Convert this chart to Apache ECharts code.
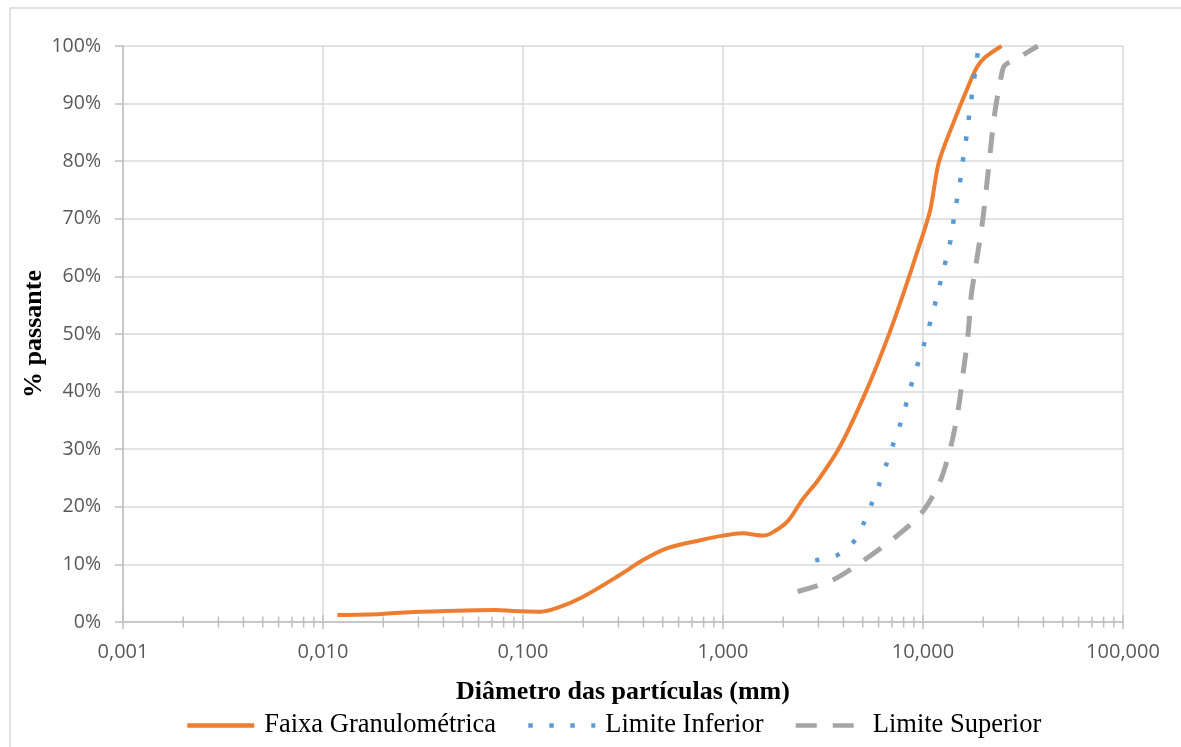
<!DOCTYPE html>
<html>
<head>
<meta charset="utf-8">
<script src="https://cdn.jsdelivr.net/npm/echarts@6/dist/echarts.min.js"></script>
<style>html,body{margin:0;padding:0;background:#fff;}#chart{width:1181px;height:747px;}</style>
</head>
<body>
<div id="chart"></div>
<script>
// ---- Data (diameter in mm, % passing) ----
const faixaD   = [0.0118,0.0197,0.0272,0.074,0.089,0.122,0.147,0.2,0.306,0.4,0.523,0.77,1.0,1.25,1.59,1.78,2.12,2.5,3.0,3.85,5.23,6.8,8.27,9.46,10.0,10.9,12.0,14.2,16.6,18.6,20.4,24.7];
const faixaP   = [1.2,1.4,1.7,2.1,1.9,1.8,2.4,4.4,8.2,10.8,12.8,14.2,15.0,15.4,15.0,15.6,17.6,21.3,24.7,30.5,40.3,50.2,58.6,64.8,67.3,71.7,79.8,86.7,92.5,96.3,98.0,100];
const infD     = [2.89,3.68,4.47,5.03,5.53,6.04,6.56,7.1,7.7,8.26,8.8,9.46,10.2,10.9,11.6,12.3,13.05,13.8,14.3,14.9,15.5,16.0,16.6,17.1,17.7,18.3,19.0];
const infP     = [10.7,11.5,13.8,17.0,20.5,23.9,27.4,30.9,34.4,38.0,41.5,45.0,48.6,52.2,55.8,59.4,63.0,66.6,70.3,74.0,77.6,81.3,84.9,88.6,92.3,96.0,100];
const supD     = [2.36,3.54,5.05,7.2,9.83,12.1,13.8,15.0,15.9,16.8,17.4,18.3,19.8,20.8,21.8,22.9,24.7,25.6,30.0,37.5];
const supP     = [5.3,7.3,10.7,14.6,18.9,24.2,30.6,36.9,43.4,49.9,56.5,61.5,69.3,75.7,82.3,88.6,95.0,96.6,98.0,100];
const seriesNames = ['Faixa Granulométrica','Limite Inferior','Limite Superior'];
const xTickLabels = ['0,001','0,010','0,100','1,000','10,000','100,000'];
const decades = [0.001,0.01,0.1,1,10,100];
const minorMultipliers = [2,3,4,5,6,7,8,9];
const xTitle = 'Diâmetro das partículas (mm)';
const yTitle = '% passante';

const pair = (a,b) => a.map((v,i)=>[v,b[i]]);
const tickData = [];
decades.forEach((d,i)=>{
  tickData.push([d,0,1]);
  if (i < decades.length-1) minorMultipliers.forEach(m=>tickData.push([d*m,0,0]));
});

const chart = echarts.init(document.getElementById('chart'), null, {renderer:'canvas'});
const serif = 'Liberation Serif, Times New Roman, serif';
const sans = 'Open Sans, Liberation Sans, sans-serif';
chart.setOption({
  animation:false,
  backgroundColor:'#fff',
  graphic:[{type:'rect', shape:{x:10,y:8,width:1250,height:800}, style:{fill:'none',stroke:'#d9d9d9',lineWidth:1.5}, silent:true, z:-1}],
  grid:{left:123,right:58,top:46,bottom:125},
  legend:{
    data:seriesNames, left:180, top:707, itemWidth:67, itemHeight:24, itemGap:30,
    itemStyle:{opacity:0},
    lineStyle:{width:4.5},
    textStyle:{fontFamily:serif,fontSize:26.5,color:'#000',padding:[0,0,0,5]}
  },
  xAxis:{
    type:'log', logBase:10, min:0.001, max:100,
    name:xTitle, nameLocation:'middle', nameGap:57,
    nameTextStyle:{fontFamily:serif,fontSize:26,fontWeight:'bold',color:'#000'},
    axisLine:{show:true,lineStyle:{color:'#bfbfbf',width:1.5}},
    axisTick:{show:false},
    axisLabel:{fontFamily:sans,fontSize:20,color:'#595959',margin:20,
      formatter:v=>xTickLabels[Math.round(Math.log10(v))+3]},
    splitLine:{show:true,lineStyle:{color:'#d9d9d9',width:1.5}}
  },
  yAxis:{
    type:'value', min:0, max:100, interval:10,
    name:yTitle, nameLocation:'middle', nameGap:76, nameRotate:90, nameMoveOverlap:false,
    nameTextStyle:{fontFamily:serif,fontSize:26,fontWeight:'bold',color:'#000'},
    axisLine:{show:true,lineStyle:{color:'#bfbfbf',width:1.5}},
    axisTick:{show:true,length:8,lineStyle:{color:'#bfbfbf',width:1.5}},
    axisLabel:{fontFamily:sans,fontSize:19.5,color:'#595959',margin:22,formatter:v=>v+'%'},
    splitLine:{show:true,lineStyle:{color:'#d9d9d9',width:1.5}}
  },
  series:[
    {type:'custom', silent:true, clip:false, z:1, data:tickData, encode:{x:0,y:1},
     renderItem:(params,api)=>{
       const p = api.coord([api.value(0),0]);
       const h = api.value(2) ? 7 : 5.5;
       return {type:'line', shape:{x1:p[0],y1:p[1]-h,x2:p[0],y2:p[1]+h}, style:{stroke:'#bfbfbf',lineWidth:1.5}};
     }},
    {name:seriesNames[0], type:'line', data:pair(faixaD,faixaP), smooth:0.3, showSymbol:false, symbol:'none', z:3,
     lineStyle:{color:'#ED7D31',width:4}, itemStyle:{color:'#ED7D31'}},
    {name:seriesNames[1], type:'line', data:pair(infD,infP), smooth:0.3, showSymbol:false, symbol:'none', z:3,
     lineStyle:{color:'#5B9BD5',width:4.5,type:[4.5,16.5],cap:'butt'}, itemStyle:{color:'#5B9BD5'}},
    {name:seriesNames[2], type:'line', data:pair(supD,supP), smooth:0.3, showSymbol:false, symbol:'none', z:3,
     lineStyle:{color:'#A5A5A5',width:5,type:[21,16],cap:'butt'}, itemStyle:{color:'#A5A5A5'}}
  ]
});
</script>
</body>
</html>
